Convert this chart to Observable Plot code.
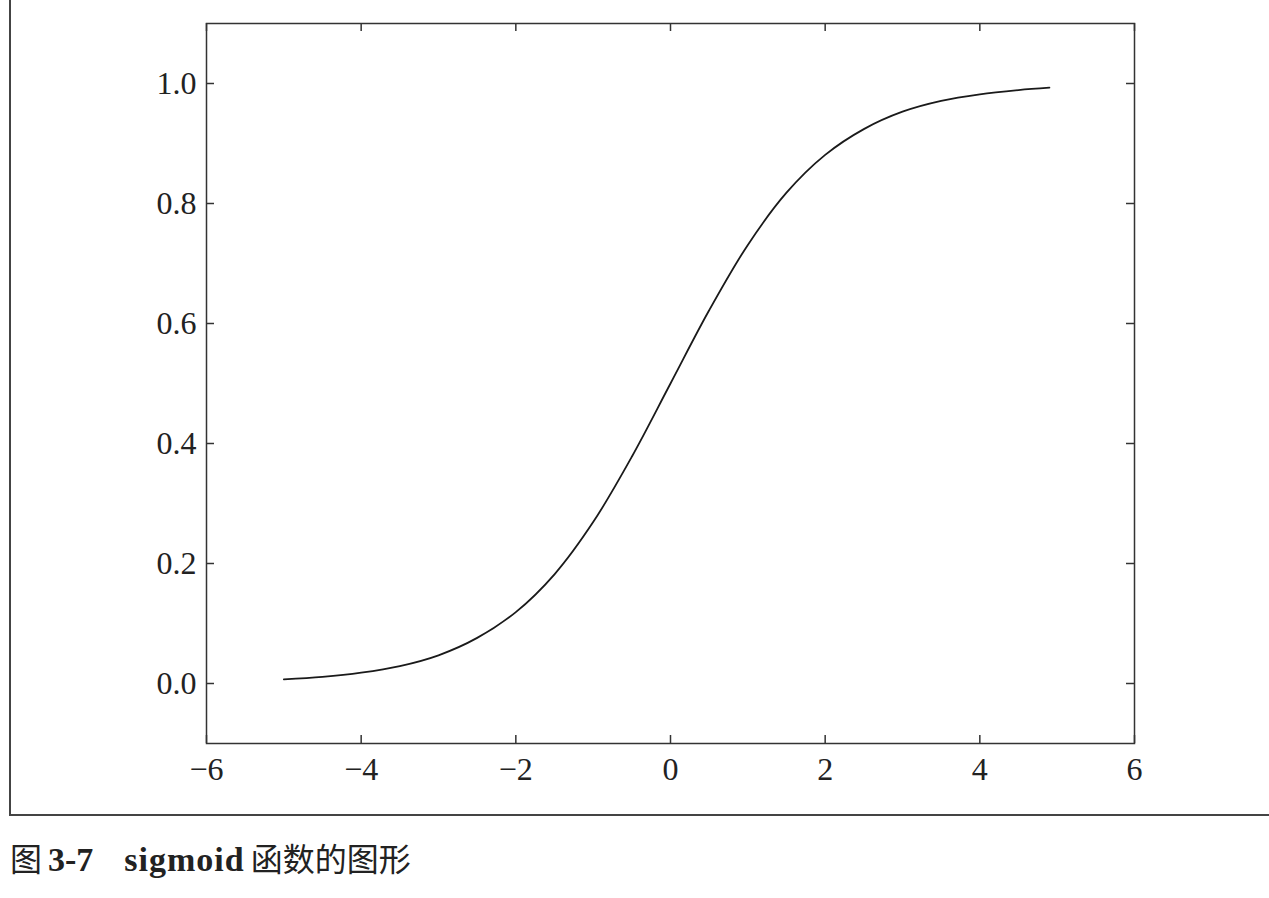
<!DOCTYPE html>
<html>
<head>
<meta charset="utf-8">
<script src="https://cdn.jsdelivr.net/npm/d3@7"></script>
<script src="https://cdn.jsdelivr.net/npm/@observablehq/plot@0.6"></script>
<style>
  html, body { margin: 0; padding: 0; background: #fff; }
  #page { position: relative; width: 1269px; height: 898px; overflow: hidden; }
  #box { position: absolute; left: 9px; top: -2px; width: 1300px; height: 818px;
         border-left: 2px solid #444; border-bottom: 2px solid #444; box-sizing: border-box; }
  #chart { position: absolute; left: 0; top: 0; }
  #caption { position: absolute; left: 10px; top: 835px; font-size: 32px; color: #222;
             font-family: "Noto Sans CJK SC", sans-serif; white-space: pre; line-height: 44px; }
  #caption .lat { font-family: "Liberation Serif", "DejaVu Serif", serif; font-weight: bold; font-size: 34px; }
  #caption .fig { margin-left: 6px; }
  #caption .name { margin-left: 31px; margin-right: 6px; letter-spacing: 1px; }
</style>
</head>
<body>
<div id="page">
  <div id="box"></div>
  <div id="chart"></div>
  <div id="caption">图<span class="lat fig">3-7</span><span class="lat name">sigmoid</span>函数的图形</div>
</div>
<script>
// Values
const xs = [-5, -4.5, -4, -3.5, -3, -2.5, -2, -1.5, -1, -0.5, 0, 0.5, 1, 1.5, 2, 2.5, 3, 3.5, 4, 4.5, 4.9];
const ys = [0.007, 0.011, 0.018, 0.029, 0.047, 0.076, 0.119, 0.182, 0.269, 0.378, 0.5, 0.622, 0.731, 0.818, 0.881, 0.924, 0.953, 0.971, 0.982, 0.989, 0.993];
const xTicks = [-6, -4, -2, 0, 2, 4, 6];
const yTicks = [0.0, 0.2, 0.4, 0.6, 0.8, 1.0];

const data = xs.map((x, i) => ({x, y: ys[i]}));
const minus = d => (d < 0 ? "\u2212" + Math.abs(d) : String(d));

const plot = Plot.plot({
  width: 1269,
  height: 800,
  marginLeft: 206,
  marginRight: 135,
  marginTop: 23,
  marginBottom: 57,
  style: {fontFamily: "'Liberation Serif', 'DejaVu Serif', serif", fontSize: "32px", color: "#222", background: "transparent"},
  x: {domain: [-6, 6]},
  y: {domain: [-0.1, 1.1]},
  marks: [
    Plot.axisX(xTicks, {anchor: "bottom", tickSize: 0, tickPadding: 14, tickFormat: minus, label: null}),
    Plot.axisY(yTicks, {anchor: "left", tickSize: 0, tickPadding: 10, tickFormat: d => d.toFixed(1), label: null}),
    Plot.tickX(xTicks, {x: d => d, insetTop: 712, stroke: "#333", strokeWidth: 1.5}),
    Plot.tickX(xTicks, {x: d => d, insetBottom: 712, stroke: "#333", strokeWidth: 1.5}),
    Plot.tickY(yTicks, {y: d => d, insetRight: 920, stroke: "#333", strokeWidth: 1.5}),
    Plot.tickY(yTicks, {y: d => d, insetLeft: 920, stroke: "#333", strokeWidth: 1.5}),
    Plot.frame({stroke: "#333", strokeWidth: 1.5}),
    Plot.line(data, {x: "x", y: "y", curve: "catmull-rom", stroke: "#1a1a1a", strokeWidth: 1.8})
  ]
});
document.getElementById("chart").appendChild(plot);
</script>
</body>
</html>
